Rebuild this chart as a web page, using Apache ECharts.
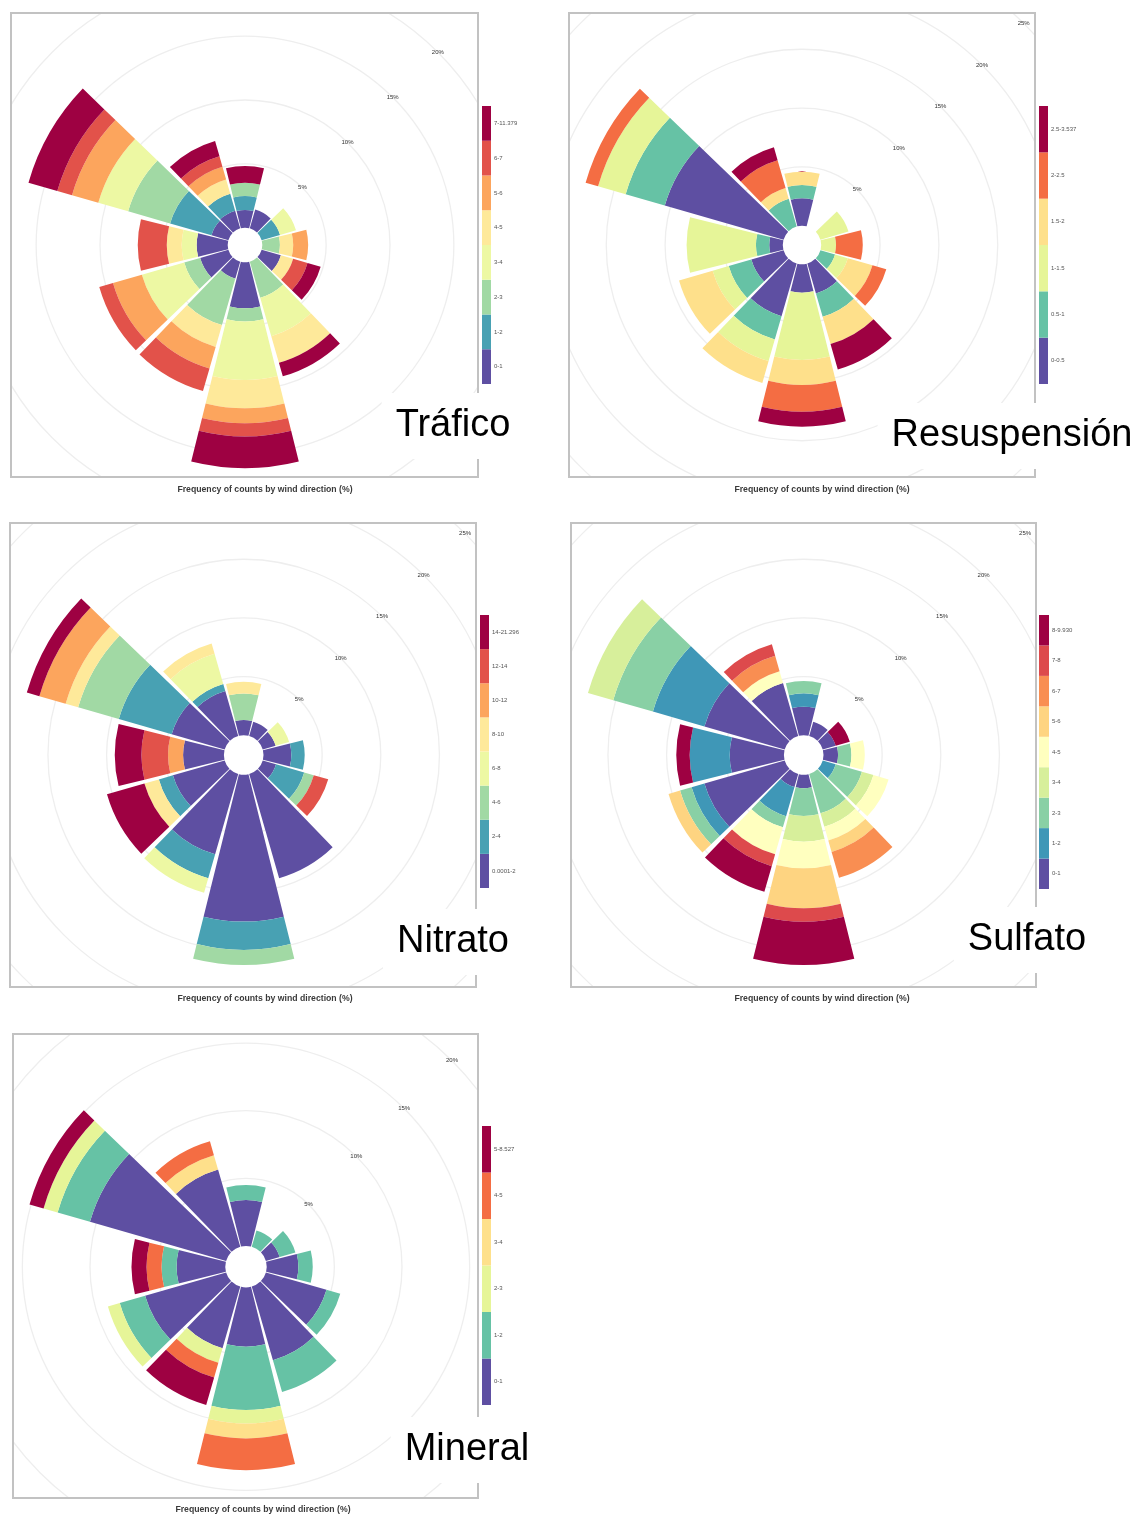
<!DOCTYPE html>
<html>
<head>
<meta charset="utf-8">
<script src="https://cdn.jsdelivr.net/npm/echarts@6/dist/echarts.min.js"></script>
<style>
  html, body { margin: 0; padding: 0; background: #fff; }
  #page { position: relative; width: 1136px; height: 1514px; overflow: hidden; background: #fff; }
  .plot { position: absolute; }
  #overlay { position: absolute; left: 0; top: 0; width: 1136px; height: 1514px; pointer-events: none; z-index: 5; }
</style>
</head>
<body>
<div id="page"></div>
<script>
// Wind sectors (degrees from north, 30° bins)
const directions = [0, 30, 60, 90, 120, 150, 180, 210, 240, 270, 300, 330];

// Frequency (%) of each concentration interval per wind sector
const traficoBins = ['0-1', '1-2', '2-3', '3-4', '4-5', '5-6', '6-7', '7-11.379'];
const traficoFreq = [
  [1.38, 1.54, 0, 0, 1.57, 0, 3.60, 1.38, 2.30, 2.43, 1.38, 1.44],
  [1.10, 0, 1.50, 0, 0, 0, 0, 0, 0, 0, 3.37, 1.38],
  [1.04, 0, 0, 1.38, 0, 2.95, 1.04, 3.79, 1.30, 0, 3.42, 0],
  [0, 0, 1.30, 0, 0, 3.13, 4.57, 0, 3.45, 1.17, 2.43, 0],
  [0, 0, 0, 1.04, 1.00, 2.17, 2.22, 1.78, 0, 1.17, 0, 1.17],
  [0, 0, 0, 1.17, 0, 0, 1.17, 1.75, 2.35, 0, 2.14, 1.04],
  [0, 0, 0, 0, 1.17, 0, 1.04, 1.85, 1.12, 2.27, 1.20, 0.84],
  [1.31, 0, 0, 0, 1.07, 1.10, 2.48, 0, 0, 0, 2.35, 1.25]
];

const resusBins = ['0-0.5', '0.5-1', '1-1.5', '1.5-2', '2-2.5', '2.5-3.537'];
const resusFreq = [
  [2.34, 0, 0, 0, 0, 2.65, 2.42, 4.66, 2.85, 1.15, 10.50, 0],
  [1.13, 0, 0, 0, 1.29, 2.07, 0, 2.07, 2.00, 1.13, 3.46, 2.45],
  [0, 0, 2.48, 1.26, 1.13, 0, 5.72, 1.90, 1.42, 5.89, 2.44, 0],
  [1.13, 0, 0, 0, 2.18, 2.41, 2.12, 1.93, 2.97, 0, 0, 0.96],
  [0, 0, 0, 2.27, 1.22, 0, 2.27, 0, 0, 0, 1.10, 2.46],
  [0, 0, 0, 0, 0, 2.24, 1.27, 0, 0, 0, 0, 1.13]
];

const nitratoBins = ['0.0001-2', '2-4', '4-6', '6-8', '8-10', '10-12', '12-14', '14-21.296'];
const nitratoFreq = [
  [1.29, 1.26, 1.15, 2.37, 1.18, 9.24, 12.51, 7.12, 4.59, 3.48, 4.70, 3.99],
  [0, 0, 0, 1.14, 2.50, 0, 2.41, 2.13, 1.25, 0, 4.69, 0.63],
  [2.27, 0, 0, 0, 0.85, 0, 1.28, 0, 0, 0, 3.61, 0],
  [0, 0, 1.19, 0, 0, 0, 0, 1.28, 0, 0, 0, 2.67],
  [0.99, 0, 0, 0, 0, 0, 0, 0, 1.28, 0, 1.11, 0.91],
  [0, 0, 0, 0, 0, 0, 0, 0, 0, 1.28, 2.33, 0],
  [0, 0, 0, 0, 1.28, 0, 0, 0, 0, 2.27, 0, 0],
  [0, 0, 0, 0, 0, 0, 0, 0, 3.32, 2.27, 1.11, 0]
];

const sulfatoBins = ['0-1', '1-2', '2-3', '3-4', '4-5', '5-6', '6-7', '7-8', '8-9.930'];
const sulfatoFreq = [
  [2.43, 1.26, 1.15, 1.24, 0, 0, 1.15, 1.15, 7.12, 4.62, 7.12, 4.70],
  [1.14, 0, 0, 0, 1.15, 0, 0, 2.59, 1.14, 3.41, 4.57, 0],
  [1.05, 0, 0, 1.14, 2.33, 3.48, 2.36, 0.99, 1.02, 0, 3.52, 0],
  [0, 0, 0, 0, 1.02, 1.19, 2.19, 0, 0, 0, 2.24, 0],
  [0, 0, 0, 1.14, 1.34, 1.22, 2.27, 2.39, 0, 0, 0, 1.05],
  [0, 0, 0, 0, 0, 1.02, 3.41, 0, 1.02, 0, 0, 0],
  [0, 0, 0, 0, 0, 2.30, 0, 0, 0, 0, 0, 1.36],
  [0, 0, 0, 0, 0, 0, 1.14, 1.05, 0, 0, 0, 1.02],
  [0, 0, 1.25, 0, 0, 0, 3.69, 2.27, 0, 1.14, 0, 0]
];

const mineralBins = ['0-1', '1-2', '2-3', '3-4', '4-5', '5-8.527'];
const mineralFreq = [
  [3.40, 0, 1.06, 2.34, 4.66, 5.67, 4.38, 4.75, 6.23, 3.60, 10.47, 5.94],
  [1.11, 1.26, 1.21, 1.06, 1.06, 2.44, 4.68, 0, 1.95, 1.11, 2.49, 0],
  [0, 0, 0, 0, 0, 0, 0.99, 1.11, 0.91, 0, 1.08, 0],
  [0, 0, 0, 0, 0, 0, 1.11, 0, 0, 0, 0, 1.11],
  [0, 0, 0, 0, 0, 0, 2.34, 1.13, 0, 1.11, 0, 1.06],
  [0, 0, 0, 0, 0, 0, 0, 2.12, 0, 1.11, 1.08, 0]
];

const radiusMax = 25;
const radiusStep = 5;
const captionText = 'Frequency of counts by wind direction (%)';

// Panel layout: plot frame [left, top, right, bottom], rose centre, inner radius and px per %
const panels = [
  { title: 'Tráfico', bins: traficoBins, freq: traficoFreq,
    box: [11, 13, 478, 477], center: [245, 245], r0: 17.3, k: 12.77,
    legend: { x: 482, top: 106, bottom: 384, w: 9 }, titleAt: [453, 426], captionAt: [265, 490] },
  { title: 'Resuspensión', bins: resusBins, freq: resusFreq,
    box: [569, 13, 1035, 477], center: [802, 245], r0: 19.2, k: 11.77,
    legend: { x: 1039, top: 106, bottom: 384, w: 9 }, titleAt: [1012, 436], captionAt: [822, 490] },
  { title: 'Nitrato', bins: nitratoBins, freq: nitratoFreq,
    box: [10, 523, 476, 987], center: [243.7, 755], r0: 19.8, k: 11.73,
    legend: { x: 480, top: 615, bottom: 888, w: 9 }, titleAt: [453, 942], captionAt: [265, 999] },
  { title: 'Sulfato', bins: sulfatoBins, freq: sulfatoFreq,
    box: [571, 523, 1036, 987], center: [803.7, 755], r0: 19.8, k: 11.73,
    legend: { x: 1039, top: 615, bottom: 889, w: 10 }, titleAt: [1027, 940], captionAt: [822, 999] },
  { title: 'Mineral', bins: mineralBins, freq: mineralFreq,
    box: [13, 1034, 478, 1498], center: [246, 1266.7], r0: 20.7, k: 13.53,
    legend: { x: 482, top: 1126, bottom: 1405, w: 9 }, titleAt: [467, 1450], captionAt: [263, 1510] }
];

// Brewer "Spectral" ramp, interpolated to n colours (low = purple, high = dark red)
const SPECTRAL = ['#9E0142', '#D53E4F', '#F46D43', '#FDAE61', '#FEE08B', '#FFFFBF',
                  '#E6F598', '#ABDDA4', '#66C2A5', '#3288BD', '#5E4FA2'];
function hexToRgb(h) { return [1, 3, 5].map(i => parseInt(h.slice(i, i + 2), 16)); }
function spectralRamp(n) {
  const out = [];
  for (let i = 0; i < n; i++) {
    const t = 10 - i * 10 / (n - 1);
    const a = Math.floor(t), b = Math.min(a + 1, 10), f = t - a;
    const ca = hexToRgb(SPECTRAL[a]), cb = hexToRgb(SPECTRAL[b]);
    out.push('rgb(' + ca.map((v, j) => Math.round(v + (cb[j] - v) * f)).join(',') + ')');
  }
  return out;
}

// The angle axis starts at north-east so the % labels sit on that diagonal;
// category order therefore begins with the 60° sector.
const rot = arr => arr.slice(2).concat(arr.slice(0, 2));

const page = document.getElementById('page');
const ringColors = ['rgba(0,0,0,0)'].concat(Array(radiusMax / radiusStep).fill('#eeeeee'));

panels.forEach(p => {
  const [l, t, r, b] = p.box;
  const div = document.createElement('div');
  div.className = 'plot';
  div.style.left = l + 'px';
  div.style.top = t + 'px';
  div.style.width = (r - l) + 'px';
  div.style.height = (b - t) + 'px';
  page.appendChild(div);
  const colors = spectralRamp(p.bins.length);
  const chart = echarts.init(div, null, { renderer: 'canvas' });
  chart.setOption({
    animation: false,
    backgroundColor: '#fff',
    polar: {
      center: [p.center[0] - l, p.center[1] - t],
      radius: [p.r0, p.r0 + p.k * radiusMax]
    },
    angleAxis: {
      type: 'category',
      data: rot(directions.map(String)),
      startAngle: 45,
      clockwise: true,
      boundaryGap: true,
      axisLine: { show: false },
      axisTick: { show: false },
      axisLabel: { show: false },
      splitLine: { show: false }
    },
    radiusAxis: {
      type: 'value',
      min: 0,
      max: radiusMax,
      interval: radiusStep,
      axisLine: { show: false },
      axisTick: { show: false },
      axisLabel: {
        formatter: v => (v === 0 ? '' : v + '%'),
        fontSize: 6,
        fontFamily: 'Liberation Sans, Arial, sans-serif',
        color: '#333',
        align: 'center',
        verticalAlign: 'middle',
        margin: 0
      },
      splitLine: { show: true, lineStyle: { color: ringColors, width: 1.3 } }
    },
    series: p.freq.map((vals, i) => ({
      type: 'bar',
      coordinateSystem: 'polar',
      name: p.bins[i],
      stack: 'freq',
      data: rot(vals),
      barCategoryGap: '7%',
      itemStyle: { color: colors[i] },
      silent: true,
      emphasis: { disabled: true }
    }))
  });
});

// Frames, colour keys, captions and titles
const overlay = document.createElement('div');
overlay.id = 'overlay';
page.appendChild(overlay);
const graphics = [];
panels.forEach(p => {
  const [l, t, r, b] = p.box;
  graphics.push({
    type: 'rect', z: 1,
    shape: { x: l, y: t, width: r - l, height: b - t },
    style: { fill: 'none', stroke: '#c2c2c2', lineWidth: 2 }
  });
  const colors = spectralRamp(p.bins.length);
  const n = p.bins.length;
  const h = (p.legend.bottom - p.legend.top) / n;
  p.bins.forEach((lab, i) => {
    const y0 = p.legend.bottom - (i + 1) * h;
    graphics.push({
      type: 'rect', z: 2,
      shape: { x: p.legend.x, y: y0, width: p.legend.w, height: h },
      style: { fill: colors[i] }
    });
    graphics.push({
      type: 'text', z: 2,
      style: {
        text: lab, x: p.legend.x + p.legend.w + 3, y: y0 + h / 2,
        fontSize: 6, fontFamily: 'Liberation Sans, Arial, sans-serif',
        fill: '#555', align: 'left', verticalAlign: 'middle'
      }
    });
  });
  graphics.push({
    type: 'text', z: 2,
    style: {
      text: captionText, x: p.captionAt[0], y: p.captionAt[1],
      fontSize: 8.7, fontWeight: 'bold', fontFamily: 'Liberation Sans, Arial, sans-serif',
      fill: '#3a3a3a', align: 'center', verticalAlign: 'middle'
    }
  });
  graphics.push({
    type: 'text', z: 10,
    style: {
      text: p.title, x: p.titleAt[0], y: p.titleAt[1],
      fontSize: 38, fontFamily: 'Liberation Sans, Arial, sans-serif',
      fill: '#000', align: 'center', verticalAlign: 'middle',
      backgroundColor: '#fff', padding: [14, 14]
    }
  });
});
const over = echarts.init(overlay, null, { renderer: 'canvas' });
over.setOption({ animation: false, backgroundColor: 'transparent', graphic: graphics });
</script>
</body>
</html>
